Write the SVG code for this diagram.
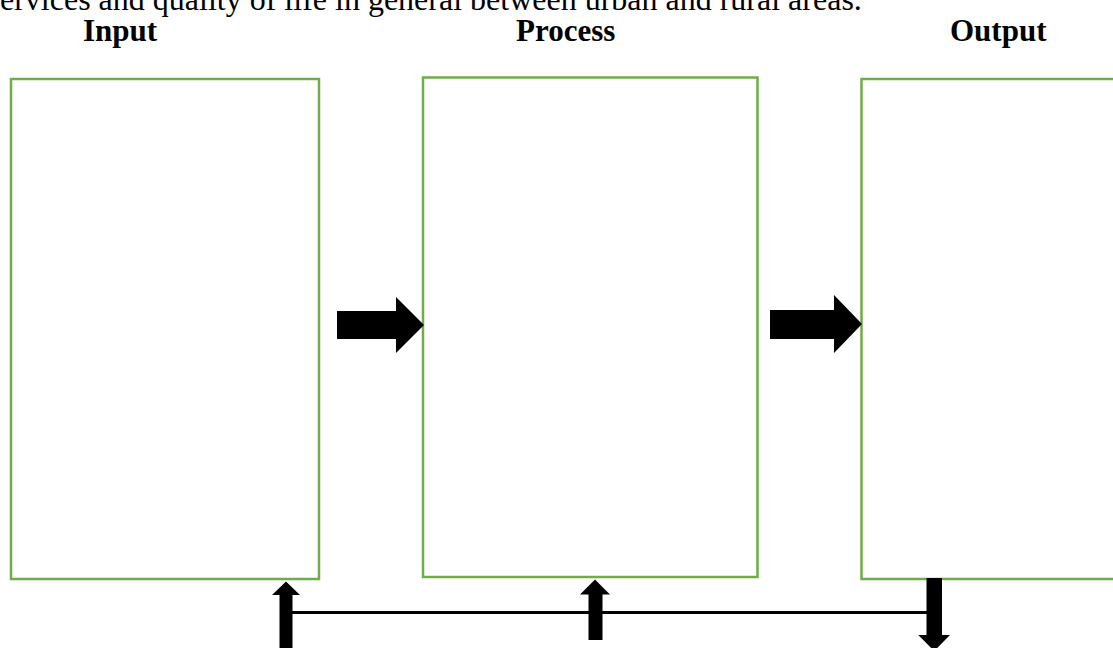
<svg xmlns="http://www.w3.org/2000/svg" width="1113" height="648" viewBox="0 0 1113 648">
  <style>
    .box { fill: #ffffff; stroke: #70AD47; stroke-width: 2.5; }
    .head { font-family: "Liberation Serif", "Times New Roman", serif; font-weight: bold; font-size: 31px; fill: #000000; }
    .body { font-family: "Liberation Serif", "Times New Roman", serif; font-size: 32px; fill: #000000; }
    .arrow { fill: #000000; stroke: none; }
    .line { stroke: #000000; stroke-width: 3; fill: none; }
  </style>
  <rect x="0" y="0" width="1113" height="648" fill="#ffffff"/>
  <text class="body" x="0" y="9.5">ervices and quality of life in general between urban and rural areas.</text>
  <g id="input">
    <text class="head" x="83" y="41">Input</text>
    <rect class="box" x="11" y="79" width="308" height="500"/>
  </g>
  <g id="process">
    <text class="head" x="516" y="41">Process</text>
    <rect class="box" x="423" y="77.5" width="334.5" height="499.5"/>
  </g>
  <g id="output">
    <text class="head" x="950" y="41">Output</text>
    <rect class="box" x="861.5" y="79" width="300" height="500"/>
  </g>
  <g id="connectors">
    <polygon class="arrow" points="337,311 396,311 396,297 424,325 396,353 396,339 337,339"/>
    <polygon class="arrow" points="770,310 834,310 834,295 862,324 834,353 834,339 770,339"/>
    <polyline class="line" points="292,612.5 927,612.5"/>
    <polygon class="arrow" points="279.5,650 279.5,595 272,595 286,581.5 300,595 292.5,595 292.5,650"/>
    <polygon class="arrow" points="588.5,640 588.5,594.5 580,594.5 595,579.5 610,594.5 602.5,594.5 602.5,640"/>
    <polygon class="arrow" points="926.5,578 942,578 942,635 950,635 934.2,651 918.3,635 926.5,635"/>
  </g>
</svg>
